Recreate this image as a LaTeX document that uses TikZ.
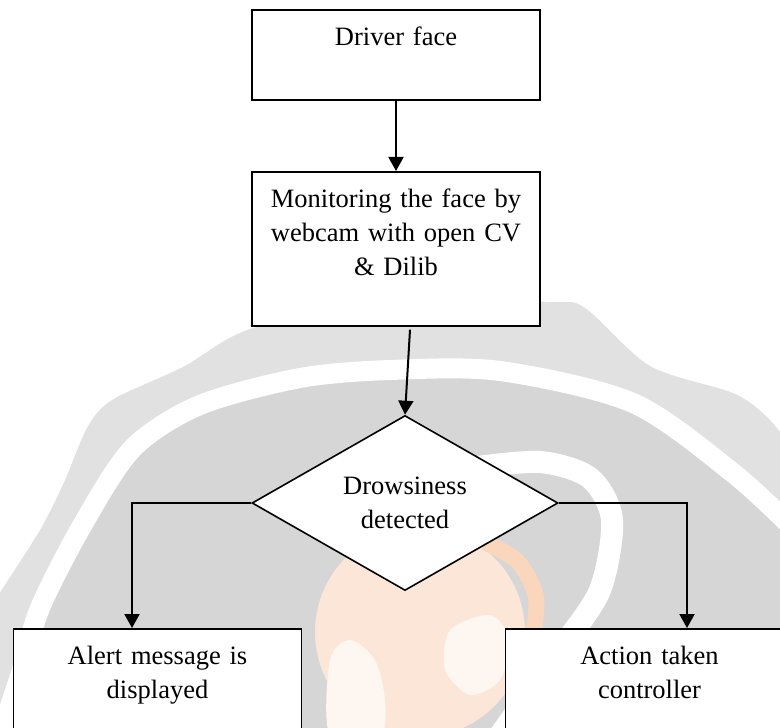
\documentclass[tikz,border=0pt]{standalone}
\usepackage{fontspec}
\setmainfont{Liberation Serif}
\usetikzlibrary{shapes.geometric, arrows.meta, positioning, calc}
\definecolor{wmlight}{RGB}{225,225,225}
\definecolor{wmdark}{RGB}{214,214,214}
\definecolor{wmpeach}{RGB}{252,230,216}
\definecolor{wmorange}{RGB}{250,214,188}
\definecolor{wmland}{RGB}{254,246,240}
\tikzstyle{box} = [rectangle, draw, fill=white, line width=0.8pt, text width=136pt, minimum width=144pt, align=center, inner xsep=4pt, inner ysep=0pt, text height=18pt, anchor=north]
\tikzstyle{decide} = [diamond, draw, fill=white, line width=0.8pt, aspect=1.75, inner sep=0pt, minimum width=153pt, minimum height=87.5pt, align=center]
\tikzstyle{arr} = [-{Triangle[length=7pt,width=7.5pt]}, line width=1pt]

\begin{document}
\begin{tikzpicture}[x=0.5pt, y=-0.5pt, font=\fontsize{13.25}{17}\selectfont]
    \useasboundingbox (0,0) rectangle (780,727);
    \clip (0,0) rectangle (780,727);
    % watermark in the back
    \fill[wmlight] plot[smooth] coordinates {(-5,600) (40,530) (65,480) (87,428) (112,400) (183,367) (253,328) (400,300) (550,302) (585,308) (650,366) (733,393) (767,417) (790,445)} -- (790,735) -- (-5,735) -- cycle;
    \fill[wmdark] plot[smooth] coordinates {(0,735) (20,676) (40,608) (83,524) (133,448) (200,405) (300,378) (390,370) (500,371) (633,403) (733,473) (795,530)} -- (795,735) -- cycle;
    \draw[white, line width=10pt] plot[smooth] coordinates {(0,735) (20,676) (40,608) (83,524) (133,448) (200,405) (300,378) (390,370) (500,371) (633,403) (733,473) (795,530)};
    \draw[white, line width=11pt] plot[smooth] coordinates {(470,468) (540,462) (590,478) (612,520) (600,590) (560,650) (500,735)};
    \fill[wmpeach] (420,632) circle (105);
    \draw[wmorange, line width=8pt] plot[smooth] coordinates {(485,542) (518,562) (536,597) (533,635)};
    \fill[wmland] plot[smooth cycle] coordinates {(330,660) (350,640) (375,660) (385,700) (380,735) (330,735)};
    \fill[wmland] plot[smooth cycle] coordinates {(450,630) (490,615) (510,640) (500,680) (470,695) (445,670)};
    % flow chart
    \node[box, text depth=27pt] (D) at (396,9) {Driver face};
    \node[box, text depth=59pt] (M) at (396,171) {Monitoring the face by\\ webcam with open CV\\ \& Dilib};
    \node[decide] (S) at (405,503) {Drowsiness\\ detected};
    \node[box, text depth=60pt] (A) at (157.5,628) {Alert message is\\ displayed};
    \node[box, text depth=60pt] (C) at (649.5,628) {Action taken\\ controller};
    \draw[arr] (D) -- (M);
    \draw[arr] ([xshift=7pt,yshift=-1.5pt]M.south) -- (S.north);
    \draw[arr] (S.west) -| ([xshift=-12.75pt]A.north);
    \draw[arr] (S.east) -| ([xshift=18.75pt]C.north);
\end{tikzpicture}
\end{document}
